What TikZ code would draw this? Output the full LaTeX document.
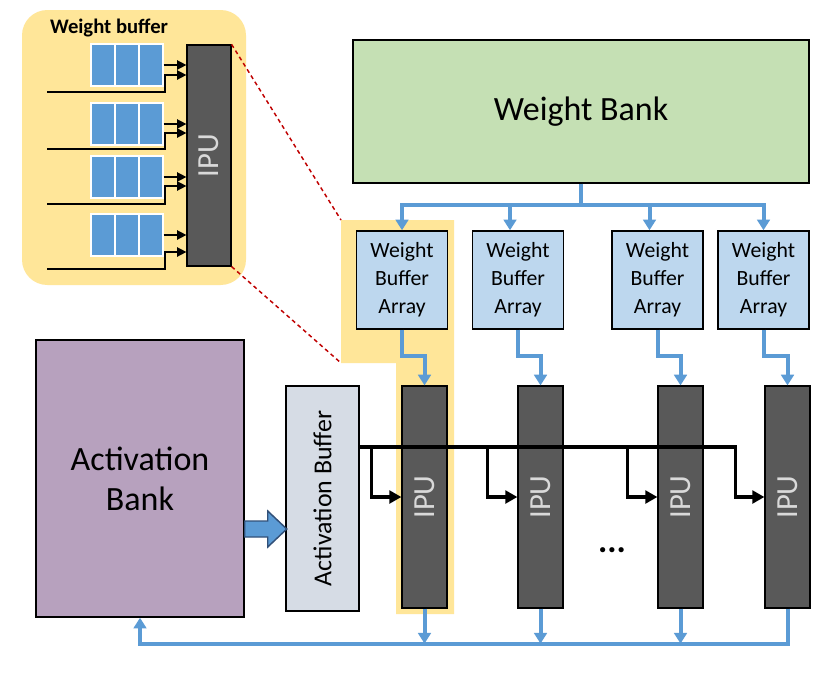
\documentclass[tikz,border=0pt]{standalone}
\usepackage{fontspec}
\setmainfont{Carlito}
\usetikzlibrary{arrows.meta}

\begin{document}
\begin{tikzpicture}[x=0.75pt,y=-0.75pt,
  box/.style={draw=black,line width=1.1pt,inner sep=0pt,align=center},
  ipubox/.style={box,line width=0.9pt,fill=ipuFill,minimum width=33.75pt,minimum height=166.5pt,
    label={[rotate=90,text=ipuText,font=\fontsize{23}{27}\selectfont]center:IPU}},
  wbabox/.style={box,fill=wbaFill,minimum width=68pt,minimum height=73.5pt,font=\fontsize{16.3}{21}\selectfont},
  cellbox/.style={draw=white,line width=1.1pt,fill=lineBlue,minimum width=18pt,minimum height=31.5pt,inner sep=0pt},
  blueline/.style={draw=lineBlue,line width=3pt},
  bluearrow/.style={blueline,-{Triangle[width=9.5pt,length=8pt]}},
  blackarrow/.style={draw=black,line width=2.6pt,-{Triangle[width=9.5pt,length=9pt]}},
  smallarrow/.style={draw=black,line width=1.1pt,-{Triangle[width=7pt,length=7pt]}},
  zoomline/.style={draw=dashRed,line width=1.1pt,dash pattern=on 3pt off 2.5pt}]
\definecolor{wbankFill}{RGB}{197,224,180}
\definecolor{wbaFill}{RGB}{189,215,238}
\definecolor{ipuFill}{RGB}{89,89,89}
\definecolor{ipuText}{RGB}{217,217,217}
\definecolor{abankFill}{RGB}{183,161,190}
\definecolor{abufFill}{RGB}{214,220,229}
\definecolor{lineBlue}{RGB}{91,155,213}
\definecolor{arrowEdge}{RGB}{50,80,120}
\definecolor{hlYellow}{RGB}{255,230,153}
\definecolor{dashRed}{RGB}{192,0,0}

\path[use as bounding box,fill=white] (0,0) rectangle (837,678);

\path[fill=hlYellow] (341,220) -- (454,220) -- (454,614) -- (396,614) -- (396,363) -- (341,363) -- cycle;
\coordinate (hlTop) at (341,220);
\coordinate (hlStep) at (341,363);

\node[fill=hlYellow,rounded corners=19pt,minimum width=168pt,minimum height=206.25pt,inner sep=0pt] (wpanel) at (134,147.5) {};

\node[font=\bfseries\fontsize{15.5}{18}\selectfont] (wtitle) at (109,28) {Weight buffer};

\node[ipubox,minimum width=33pt,minimum height=165.75pt] (sipu) at (209,155.5) {};

\node[cellbox] (c11) at (103,65) {};
\node[cellbox] (c12) at (127,65) {};
\node[cellbox] (c13) at (151,65) {};
\node[cellbox] (c21) at (103,124) {};
\node[cellbox] (c22) at (127,124) {};
\node[cellbox] (c23) at (151,124) {};
\node[cellbox] (c31) at (103,177) {};
\node[cellbox] (c32) at (127,177) {};
\node[cellbox] (c33) at (151,177) {};
\node[cellbox] (c41) at (103,235) {};
\node[cellbox] (c42) at (127,235) {};
\node[cellbox] (c43) at (151,235) {};

\draw[smallarrow] (c13.east) -- (c13.east -| sipu.west);
\draw[smallarrow] (c23.east) -- (c23.east -| sipu.west);
\draw[smallarrow] (c33.east) -- (c33.east -| sipu.west);
\draw[smallarrow] (c43.east) -- (c43.east -| sipu.west);

\coordinate (in1) at (47,92);
\coordinate (in2) at (47,149);
\coordinate (in3) at (47,204);
\coordinate (in4) at (47,269);

\draw[smallarrow] (in1) -- ++(118,0) -- ++(0,-17) coordinate (k1) -- (k1 -| sipu.west);
\draw[smallarrow] (in2) -- ++(118,0) -- ++(0,-16) coordinate (k2) -- (k2 -| sipu.west);
\draw[smallarrow] (in3) -- ++(118,0) -- ++(0,-18) coordinate (k3) -- (k3 -| sipu.west);
\draw[smallarrow] (in4) -- ++(118,0) -- ++(0,-17) coordinate (k4) -- (k4 -| sipu.west);

\draw[zoomline] (sipu.north east) -- (hlTop);
\draw[zoomline] (sipu.south east) -- (hlStep);

\node[box,fill=wbankFill,minimum width=342pt,minimum height=107.25pt,font=\fontsize{25.5}{30}\selectfont] (wbank) at (581,111.5) {Weight Bank};

\node[wbabox] (wba1) at (402,280) {Weight\\Buffer\\Array};
\node[wbabox] (wba2) at (518,280) {Weight\\Buffer\\Array};
\node[wbabox] (wba3) at (657.5,280) {Weight\\Buffer\\Array};
\node[wbabox] (wba4) at (763.5,280) {Weight\\Buffer\\Array};

\node[ipubox] (ipu1) at (424.5,497) {};
\node[ipubox] (ipu2) at (540.5,497) {};
\node[ipubox] (ipu3) at (680.5,497) {};
\node[ipubox] (ipu4) at (787.5,497) {};

\node[box,fill=abankFill,minimum width=156pt,minimum height=207.75pt,font=\fontsize{25.5}{30}\selectfont] (abank) at (140,478.5) {Activation\\Bank};

\node[box,fill=abufFill,minimum width=54.75pt,minimum height=168.75pt,
  label={[rotate=90,font=\fontsize{19.4}{23}\selectfont]center:Activation Buffer}] (abuf) at (322.5,498.5) {};

\node[font=\bfseries\fontsize{26}{30}\selectfont] (dots) at (612,550) {...};

\draw[blueline] (wbank.south) -- ++(0,21) coordinate (wsplit);
\draw[bluearrow] (wsplit) -| (wba1.north);
\draw[bluearrow] (wsplit) -| ([xshift=-6pt]wba2.north);
\draw[bluearrow] (wsplit) -| ([xshift=-6pt]wba3.north);
\draw[bluearrow] (wsplit) -| (wba4.north);

\draw[bluearrow] (wba1.south) -- ++(0,26) -| (ipu1.north);
\draw[bluearrow] (wba2.south) -- ++(0,26) -| (ipu2.north);
\draw[bluearrow] (wba3.south) -- ++(0,26) -| (ipu3.north);
\draw[bluearrow] (wba4.south) -- ++(0,26) -| (ipu4.north);

\draw[bluearrow] (ipu1.south) -- ++(0,35);
\draw[bluearrow] (ipu2.south) -- ++(0,35);
\draw[bluearrow] (ipu3.south) -- ++(0,35);
\draw[bluearrow] (ipu4.south) -- ++(0,35) -| (abank.south);

\draw[line width=1.1pt,draw=arrowEdge,fill=lineBlue] (abank.east) ++(0,42.5) -- ++(23,0) -- ++(0,-10) -- ++(19,18) -- ++(-19,18) -- ++(0,-10) -- ++(-23,0) -- cycle;

\coordinate (abus) at ([yshift=38.6pt]abuf.east);
\coordinate (b1) at ([xshift=-22.5pt]ipu1.west);
\coordinate (b2) at ([xshift=-22.5pt]ipu2.west);
\coordinate (b3) at ([xshift=-22.5pt]ipu3.west);
\coordinate (b4) at ([xshift=-21.75pt]ipu4.west);

\draw[blackarrow] (abus) -| (b4) -- (ipu4.west);
\draw[blackarrow] (b1 |- abus) -- (b1) -- (ipu1.west);
\draw[blackarrow] (b2 |- abus) -- (b2) -- (ipu2.west);
\draw[blackarrow] (b3 |- abus) -- (b3) -- (ipu3.west);
\end{tikzpicture}
\end{document}
